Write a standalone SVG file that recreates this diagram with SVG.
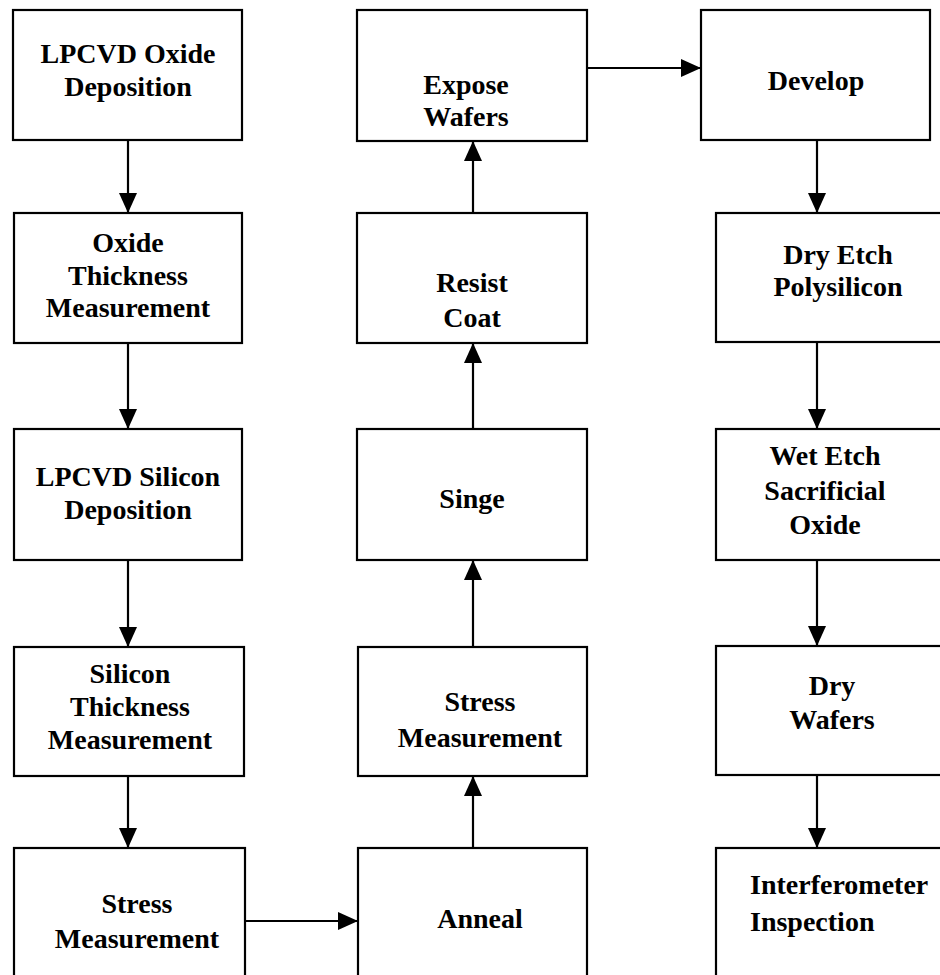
<svg xmlns="http://www.w3.org/2000/svg" width="940" height="975" viewBox="0 0 940 975">
<defs>
<marker id="ah" markerUnits="userSpaceOnUse" markerWidth="20" markerHeight="18" refX="20" refY="9" orient="auto">
<path d="M0,0 L20,9 L0,18 Z" fill="#000"/>
</marker>
<style>
.box{fill:#fff;stroke:#000;stroke-width:2.2}
.t{font-family:"Liberation Serif","Times New Roman",serif;font-weight:bold;font-size:28px;fill:#000;text-anchor:middle}
.l{text-anchor:start}
.c{stroke:#000;stroke-width:2.2;fill:none;marker-end:url(#ah)}
</style>
</defs>
<rect width="940" height="975" fill="#fff"/>
<g id="connectors">
<line class="c" x1="128" y1="140" x2="128" y2="213"/>
<line class="c" x1="128" y1="343" x2="128" y2="429"/>
<line class="c" x1="128" y1="560" x2="128" y2="647"/>
<line class="c" x1="128" y1="776" x2="128" y2="848"/>
<line class="c" x1="245" y1="921" x2="358" y2="921"/>
<line class="c" x1="473" y1="848" x2="473" y2="776"/>
<line class="c" x1="473" y1="647" x2="473" y2="560"/>
<line class="c" x1="473" y1="429" x2="473" y2="343"/>
<line class="c" x1="473" y1="213" x2="473" y2="141"/>
<line class="c" x1="587" y1="68" x2="701" y2="68"/>
<line class="c" x1="817" y1="140" x2="817" y2="213"/>
<line class="c" x1="817" y1="342" x2="817" y2="429"/>
<line class="c" x1="817" y1="560" x2="817" y2="646"/>
<line class="c" x1="817" y1="775" x2="817" y2="848"/>
</g>
<g id="n1"><rect class="box" x="13" y="10" width="229" height="130"/><text class="t" x="128" y="63">LPCVD Oxide</text><text class="t" x="128" y="96">Deposition</text></g>
<g id="n2"><rect class="box" x="14" y="213" width="228" height="130"/><text class="t" x="128" y="252">Oxide</text><text class="t" x="128" y="285">Thickness</text><text class="t" x="128" y="317">Measurement</text></g>
<g id="n3"><rect class="box" x="14" y="429" width="228" height="131"/><text class="t" x="128" y="486">LPCVD Silicon</text><text class="t" x="128" y="519">Deposition</text></g>
<g id="n4"><rect class="box" x="14" y="647" width="230" height="129"/><text class="t" x="130" y="683">Silicon</text><text class="t" x="130" y="716">Thickness</text><text class="t" x="130" y="749">Measurement</text></g>
<g id="n5"><rect class="box" x="14" y="848" width="231" height="140"/><text class="t" x="137" y="913">Stress</text><text class="t" x="137" y="948">Measurement</text></g>
<g id="n6"><rect class="box" x="358" y="848" width="229" height="140"/><text class="t" x="480" y="928">Anneal</text></g>
<g id="n7"><rect class="box" x="358" y="647" width="229" height="129"/><text class="t" x="480" y="711">Stress</text><text class="t" x="480" y="747">Measurement</text></g>
<g id="n8"><rect class="box" x="357" y="429" width="230" height="131"/><text class="t" x="472" y="508">Singe</text></g>
<g id="n9"><rect class="box" x="357" y="213" width="230" height="130"/><text class="t" x="472" y="292">Resist</text><text class="t" x="472" y="327">Coat</text></g>
<g id="n10"><rect class="box" x="357" y="10" width="230" height="131"/><text class="t" x="466" y="94">Expose</text><text class="t" x="466" y="126">Wafers</text></g>
<g id="n11"><rect class="box" x="701" y="10" width="229" height="130"/><text class="t" x="816" y="90">Develop</text></g>
<g id="n12"><rect class="box" x="716" y="213" width="260" height="129"/><text class="t" x="838" y="264">Dry Etch</text><text class="t" x="838" y="296">Polysilicon</text></g>
<g id="n13"><rect class="box" x="716" y="429" width="260" height="131"/><text class="t" x="825" y="465">Wet Etch</text><text class="t" x="825" y="500">Sacrificial</text><text class="t" x="825" y="534">Oxide</text></g>
<g id="n14"><rect class="box" x="716" y="646" width="260" height="129"/><text class="t" x="832" y="695">Dry</text><text class="t" x="832" y="729">Wafers</text></g>
<g id="n15"><rect class="box" x="716" y="848" width="260" height="140"/><text class="t l" x="750" y="894">Interferometer</text><text class="t l" x="750" y="931">Inspection</text></g>
</svg>
